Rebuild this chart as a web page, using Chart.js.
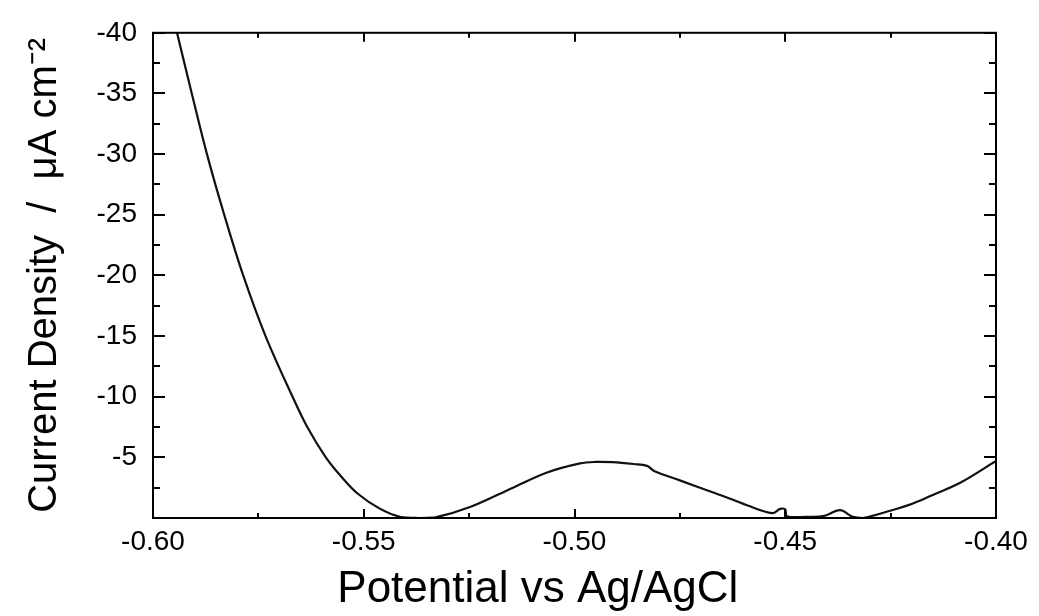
<!DOCTYPE html>
<html>
<head>
<meta charset="utf-8">
<script src="https://cdn.jsdelivr.net/npm/chart.js@4.4.1/dist/chart.umd.min.js"></script>
<style>
  html, body { margin: 0; padding: 0; background: #fff; }
  #contenedor { width: 1039px; height: 616px; }
</style>
</head>
<body>
<div id="contenedor"><canvas id="grafico"></canvas></div>
<script>
// Datos (potencial en V, densidad de corriente en uA/cm2)
const potencial = [
  -0.5943, -0.5908, -0.5872, -0.5831, -0.5786, -0.5733, -0.5669, -0.5634,
  -0.5590, -0.5553, -0.5514, -0.5461, -0.5414, -0.5370,
  -0.5330, -0.5248, -0.5146, -0.5065, -0.4987, -0.4950, -0.4910, -0.4860,
  -0.4828, -0.4810, -0.4750, -0.4671, -0.4624, -0.4591, -0.4531, -0.4512,
  -0.4500, -0.4496, -0.4450, -0.4410, -0.4370, -0.4340, -0.4316, -0.4251,
  -0.4197, -0.4150, -0.4085, -0.4000
];
const corriente = [
  -40, -35, -30, -25, -20, -15, -10, -7.5,
  -5, -3.4, -2.0, -0.75, -0.1, 0,
  -0.05, -0.9, -2.5, -3.75, -4.5, -4.62, -4.6, -4.45,
  -4.3, -3.85, -3.1, -2.1, -1.5, -1.05, -0.4, -0.75,
  -0.7, -0.15, -0.1, -0.15, -0.65, -0.1, 0, -0.6,
  -1.2, -1.9, -2.9, -4.7
];

const ticksX = [-0.60, -0.55, -0.50, -0.45, -0.40];
const menoresX = [-0.575, -0.525, -0.475, -0.425];
const ticksY = [-40, -35, -30, -25, -20, -15, -10, -5, 0];
const menoresY = [-37.5, -32.5, -27.5, -22.5, -17.5, -12.5, -7.5, -2.5];

const fuente = '"Liberation Sans", Arial, Helvetica, sans-serif';

// Marco y marcas hacia adentro en los cuatro lados
const marco = {
  id: 'marco',
  afterDraw(chart) {
    const { ctx, chartArea: a, scales: { x, y } } = chart;
    ctx.save();
    ctx.strokeStyle = '#000';
    ctx.lineWidth = 2;
    ctx.strokeRect(a.left, a.top, a.right - a.left, a.bottom - a.top);
    ctx.beginPath();
    const marcaX = (v, largo) => {
      const px = Math.round(x.getPixelForValue(v));
      ctx.moveTo(px, a.bottom); ctx.lineTo(px, a.bottom - largo);
      ctx.moveTo(px, a.top); ctx.lineTo(px, a.top + largo);
    };
    const marcaY = (v, largo) => {
      const py = Math.round(y.getPixelForValue(v));
      ctx.moveTo(a.left, py); ctx.lineTo(a.left + largo, py);
      ctx.moveTo(a.right, py); ctx.lineTo(a.right - largo, py);
    };
    ticksX.forEach(v => marcaX(v, 9));
    menoresX.forEach(v => marcaX(v, 5));
    ticksY.forEach(v => marcaY(v, 12));
    menoresY.forEach(v => marcaY(v, 7));
    ctx.stroke();
    ctx.restore();
  }
};

new Chart(document.getElementById('grafico'), {
  type: 'line',
  data: {
    datasets: [{
      data: potencial.map((p, i) => ({ x: p, y: corriente[i] })),
      borderColor: '#111',
      borderWidth: 2.2,
      pointRadius: 0,
      fill: false,
      tension: 0.35
    }]
  },
  options: {
    responsive: true,
    maintainAspectRatio: false,
    animation: false,
    devicePixelRatio: 1,
    layout: { padding: { top: 27, right: 43, bottom: 0, left: 0 } },
    plugins: { legend: { display: false }, tooltip: { enabled: false } },
    scales: {
      x: {
        type: 'linear',
        min: -0.6,
        max: -0.4,
        afterBuildTicks: s => { s.ticks = ticksX.map(v => ({ value: v })); },
        afterFit: s => { s.height = 98; },
        grid: { display: false, drawTicks: false },
        border: { display: false },
        ticks: {
          callback: v => v.toFixed(2),
          color: '#000',
          font: { family: fuente, size: 28 },
          padding: 7,
          maxRotation: 0,
          autoSkip: false
        },
        title: {
          display: true,
          // espacios al final para correr el titulo un poco a la izquierda, como en el original
          text: 'Potential vs Ag/AgCl      ',
          color: '#000',
          font: { family: fuente, size: 44 },
          padding: { top: 0, bottom: 0 }
        }
      },
      y: {
        type: 'linear',
        reverse: true,
        min: -40,
        max: 0,
        afterBuildTicks: s => { s.ticks = ticksY.map(v => ({ value: v })); },
        afterFit: s => { s.width = 153; },
        grid: { display: false, drawTicks: false },
        border: { display: false },
        ticks: {
          callback: v => (v === 0 ? '' : v),
          color: '#000',
          font: { family: fuente, size: 28 },
          padding: 16,
          autoSkip: false
        },
        title: {
          display: true,
          text: 'Current Density  /  \u03bcA cm\u207b\u00b2',
          color: '#000',
          font: { family: fuente, size: 40 },
          padding: { top: 21, bottom: 0 }
        }
      }
    }
  },
  plugins: [marco]
});
</script>
</body>
</html>
